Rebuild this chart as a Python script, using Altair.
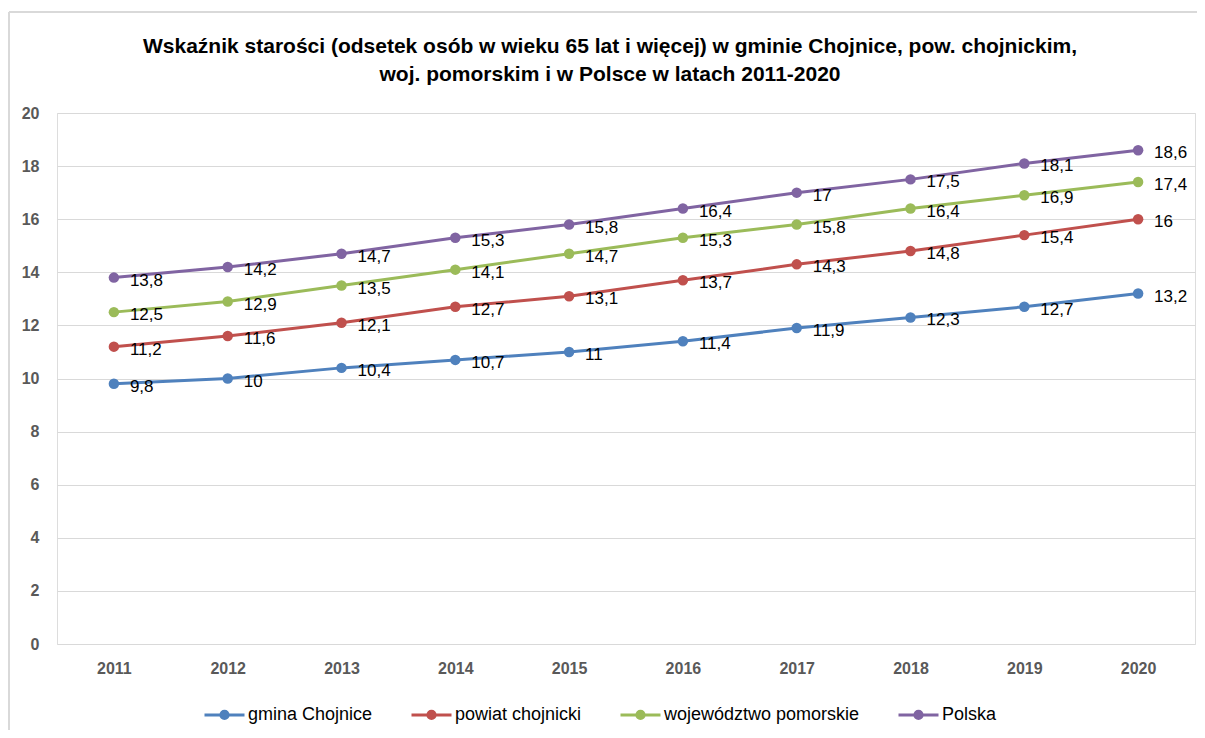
import altair as alt
import pandas as pd

years = ["2011", "2012", "2013", "2014", "2015", "2016", "2017", "2018", "2019", "2020"]
series_names = ["gmina Chojnice", "powiat chojnicki", "województwo pomorskie", "Polska"]
gmina = [9.8, 10, 10.4, 10.7, 11, 11.4, 11.9, 12.3, 12.7, 13.2]
powiat = [11.2, 11.6, 12.1, 12.7, 13.1, 13.7, 14.3, 14.8, 15.4, 16]
woj = [12.5, 12.9, 13.5, 14.1, 14.7, 15.3, 15.8, 16.4, 16.9, 17.4]
polska = [13.8, 14.2, 14.7, 15.3, 15.8, 16.4, 17, 17.5, 18.1, 18.6]
colors = ["#4F81BD", "#C0504D", "#9BBB59", "#8064A2"]
y_ticks = [0, 2, 4, 6, 8, 10, 12, 14, 16, 18, 20]

rows = []
for name, vals in zip(series_names, [gmina, powiat, woj, polska]):
    for yr, v in zip(years, vals):
        rows.append({"rok": yr, "seria": name, "wartosc": v})
df = pd.DataFrame(rows)

FONT = "Liberation Sans, Arial, sans-serif"

x_enc = alt.X("rok:O", scale=alt.Scale(type="point", padding=0.5),
              axis=alt.Axis(title=None, labelAngle=0, labelFont=FONT, labelFontSize=16,
                            labelFontWeight="bold", labelColor="#595959", labelPadding=16,
                            domain=False, ticks=False))
y_enc = alt.Y("wartosc:Q", scale=alt.Scale(domain=[0, 20], nice=False),
              axis=alt.Axis(title=None, values=y_ticks, labelFont=FONT, labelFontSize=16,
                            labelFontWeight="bold", labelColor="#595959", labelPadding=18,
                            domain=False, ticks=False, gridColor="#D9D9D9", gridWidth=1))
color_enc = alt.Color("seria:N", sort=series_names,
                      scale=alt.Scale(domain=series_names, range=colors),
                      legend=alt.Legend(title=None, orient="none", direction="horizontal",
                                        legendX=146, legendY=580,
                                        symbolType="M-1,0L1,0M-0.18,0a0.18,0.18 0 1,0 0.36,0a0.18,0.18 0 1,0 -0.36,0",
                                        symbolSize=1600, symbolStrokeWidth=3,
                                        labelFont=FONT, labelFontSize=18, labelColor="#000000",
                                        labelOffset=2, columnPadding=32, labelLimit=400))

base = alt.Chart(df).encode(x=x_enc, y=y_enc, color=color_enc)

lines = base.mark_line(strokeWidth=3)
points = base.mark_point(filled=True, size=110, opacity=1)
labels = base.transform_calculate(
    lab="replace(toString(datum.wartosc), '.', ',')"
).mark_text(align="left", baseline="middle", dx=16, dy=3, font=FONT, fontSize=17,
            color="#000000").encode(text="lab:N", color=alt.value("#000000"))

frame_df = pd.DataFrame({"k": [0]})
frame_top = alt.Chart(frame_df).mark_rule(color="#D9D9D9", strokeWidth=2).encode(
    x=alt.value(-48), x2=alt.value(1140), y=alt.value(-101))
frame_left = alt.Chart(frame_df).mark_rule(color="#D9D9D9", strokeWidth=2).encode(
    x=alt.value(-48), y=alt.value(-101), y2=alt.value(620))

chart = alt.layer(frame_top, frame_left, lines, points, labels).properties(
    width=1138, height=531,
    autosize=alt.AutoSizeParams(type="none"),
    padding={"left": 49, "top": 105, "right": 2, "bottom": 86},
    title=alt.TitleParams(
        text=["Wskaźnik starości (odsetek osób w wieku 65 lat i więcej) w gminie Chojnice, pow. chojnickim,",
              "woj. pomorskim i w Polsce w latach 2011-2020"],
        font=FONT, fontSize=21, fontWeight="bold", color="#000000", frame="group",
        anchor="middle", dx=-16, offset=-74, lineHeight=28),
).configure_view(stroke=None).configure(background="white")

chart.save("out.html", embed_options={"renderer": "svg", "actions": False})
